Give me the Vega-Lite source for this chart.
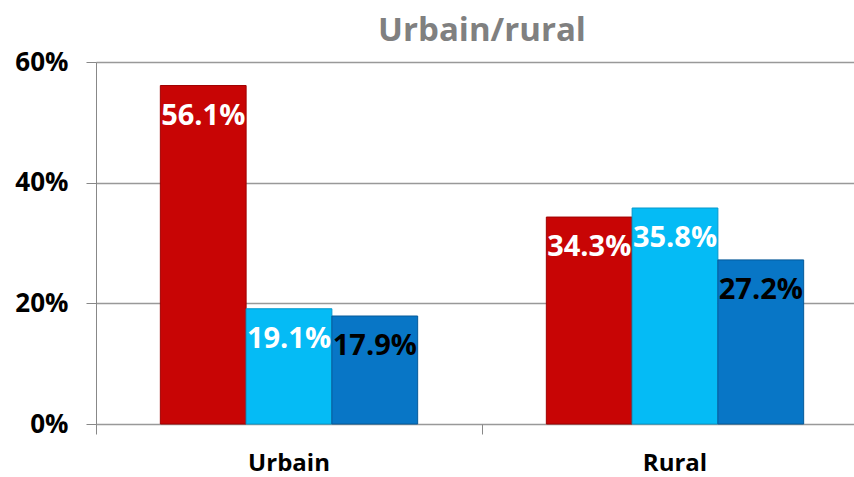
{
  "$schema": "https://vega.github.io/schema/vega-lite/v6.json",
  "autosize": "none",
  "width": 758,
  "height": 362,
  "padding": {"left": 96, "top": 62, "right": 0, "bottom": 53},
  "background": "white",
  "title": {
    "text": "Urbain/rural",
    "font": "Open Sans",
    "fontSize": 33,
    "fontWeight": "bold",
    "color": "#808080",
    "anchor": "middle",
    "frame": "group",
    "offset": 1,
    "dx": 7
  },
  "data": {
    "values": [
      {"area": "Urbain", "series": "A", "value": 0.561},
      {"area": "Urbain", "series": "B", "value": 0.191},
      {"area": "Urbain", "series": "C", "value": 0.179},
      {"area": "Rural", "series": "A", "value": 0.343},
      {"area": "Rural", "series": "B", "value": 0.358},
      {"area": "Rural", "series": "C", "value": 0.272}
    ]
  },
  "encoding": {
    "x": {
      "field": "area",
      "type": "nominal",
      "sort": ["Urbain", "Rural"],
      "scale": {"range": [0, 772], "paddingInner": 0, "paddingOuter": 0},
      "axis": {
        "title": null,
        "labelAngle": 0,
        "labelFont": "Open Sans",
        "labelFontSize": 24,
        "labelFontWeight": "bold",
        "labelColor": "black",
        "labelPadding": 17,
        "bandPosition": 0,
        "domain": false,
        "ticks": true,
        "tickColor": "#888888",
        "tickSize": 10,
        "grid": false
      }
    },
    "xOffset": {
      "field": "series",
      "type": "nominal",
      "scale": {"paddingInner": 0, "paddingOuter": 0.75}
    },
    "y": {
      "field": "value",
      "type": "quantitative",
      "scale": {"domain": [0, 0.6], "nice": false},
      "axis": {
        "title": null,
        "values": [0, 0.2, 0.4, 0.6],
        "format": ".0%",
        "labelFont": "Open Sans",
        "labelFontSize": 26,
        "labelFontWeight": "bold",
        "labelColor": "black",
        "labelPadding": 18,
        "domain": true,
        "domainColor": "#888888",
        "ticks": true,
        "tickColor": "#888888",
        "tickSize": 10,
        "grid": true,
        "gridColor": "#999999",
        "gridWidth": 1.5
      }
    }
  },
  "layer": [
    {
      "mark": {"type": "bar", "strokeWidth": 1},
      "encoding": {
        "color": {
          "field": "series",
          "type": "nominal",
          "scale": {"domain": ["A", "B", "C"], "range": ["#C80505", "#05BBF5", "#0876C6"]},
          "legend": null
        },
        "stroke": {
          "field": "series",
          "type": "nominal",
          "scale": {"domain": ["A", "B", "C"], "range": ["#A00000", "#0499CC", "#055A9A"]},
          "legend": null
        }
      }
    },
    {
      "mark": {
        "type": "text",
        "font": "Open Sans",
        "fontSize": 29,
        "fontWeight": "bold",
        "baseline": "middle",
        "align": "center",
        "dy": 30
      },
      "encoding": {
        "text": {"field": "value", "type": "quantitative", "format": ".1%"},
        "color": {
          "condition": {"test": "datum.series === 'C'", "value": "black"},
          "value": "white"
        }
      }
    }
  ]
}
